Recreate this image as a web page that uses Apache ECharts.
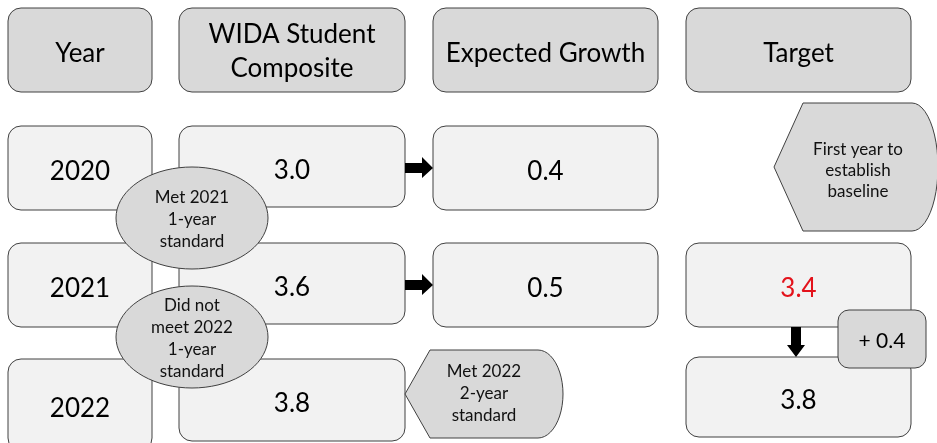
<!DOCTYPE html>
<html>
<head>
<meta charset="utf-8">
<script src="https://cdn.jsdelivr.net/npm/echarts@6/dist/echarts.min.js"></script>
<style>
  html, body { margin: 0; padding: 0; background: #fff; }
  #myChart { width: 937px; height: 443px; }
</style>
</head>
<body>
<div id="myChart"></div>
<script>
// data
const headers = ['Year', 'WIDA Student\nComposite', 'Expected Growth', 'Target']
const years = ['2020', '2021', '2022']
const composite = ['3.0', '3.6', '3.8']
const expectedGrowth = ['0.4', '0.5']
const targets = [null, '3.4', '3.8']
const targetStep = '+ 0.4'
const baselineNote = 'First year to\nestablish\nbaseline'
const oneYearNotes = ['Met 2021\n1-year\nstandard', 'Did not\nmeet 2022\n1-year\nstandard']
const twoYearNote = 'Met 2022\n2-year\nstandard'

// layout
const colLeft = [8, 179, 433, 686]
const colWidth = [144, 226, 225, 225]
const rowTop = [8, 126, 243, 359]
const FONT = 'Lato'
const STROKE = '#404040'
const HEAD_FILL = '#d9d9d9'
const BOX_FILL = '#f2f2f2'

function box(x, y, w, h, fill, text, color, size, lh, r) {
  const multi = text.indexOf('\n') >= 0
  return {
    type: 'rect',
    shape: { x: x, y: y, width: w, height: h, r: r || 13 },
    style: { fill: fill, stroke: STROKE, lineWidth: 1 },
    textContent: {
      style: {
        text: text,
        fill: color || '#000',
        fontFamily: FONT,
        fontSize: size || 26,
        lineHeight: lh || 34,
        align: 'center'
      }
    },
    textConfig: { position: 'inside', offset: [0, multi ? 2 : (size ? 2 : 4)] }
  }
}

function label(x, y, text, size, lh) {
  return {
    type: 'text',
    x: x,
    y: y,
    style: {
      text: text,
      fill: '#111',
      fontFamily: FONT,
      fontSize: size,
      lineHeight: lh,
      align: 'center',
      verticalAlign: 'middle'
    }
  }
}

function shape(points) {
  return {
    type: 'polygon',
    shape: { points: points },
    style: { fill: HEAD_FILL, stroke: STROKE, lineWidth: 1 }
  }
}

// pointed-left callout with a rounded right side
function displayShape(xPoint, xCorner, xArc, rx, top, bottom) {
  const cy = (top + bottom) / 2
  const ry = (bottom - top) / 2
  const pts = [[xPoint, cy], [xCorner, top]]
  for (let k = 0; k <= 24; k++) {
    const a = -Math.PI / 2 + Math.PI * k / 24
    pts.push([xArc + rx * Math.cos(a), cy + ry * Math.sin(a)])
  }
  pts.push([xCorner, bottom])
  return shape(pts)
}

function ellipse(cx, cy, rx, ry) {
  const pts = []
  for (let k = 0; k < 72; k++) {
    const a = Math.PI * 2 * k / 72
    pts.push([cx + rx * Math.cos(a), cy + ry * Math.sin(a)])
  }
  return shape(pts)
}

function rightArrow(x, cy) {
  return {
    type: 'polygon',
    shape: {
      points: [[x, cy - 5], [x + 17, cy - 5], [x + 17, cy - 11], [x + 28, cy],
        [x + 17, cy + 10], [x + 17, cy + 5], [x, cy + 5]]
    },
    style: { fill: '#000' }
  }
}

const els = []

// header row
headers.forEach((h, i) => {
  els.push(box(colLeft[i], rowTop[0], colWidth[i], 84, HEAD_FILL, h))
})

// year + composite columns
years.forEach((y, i) => {
  const top = rowTop[i + 1]
  els.push(box(colLeft[0], top, colWidth[0], i === 2 ? 92 : 84, BOX_FILL, y))
  els.push(box(colLeft[1], top, colWidth[1], i === 2 ? 82 : 81, BOX_FILL, composite[i]))
})

// expected growth + arrows
expectedGrowth.forEach((g, i) => {
  const top = rowTop[i + 1]
  els.push(box(colLeft[2], top, colWidth[2], 84, BOX_FILL, g))
  els.push(rightArrow(405, top + 42))
})

// target column
targets.forEach((t, i) => {
  if (t === null) return
  const top = i === 2 ? 357 : rowTop[i + 1]
  els.push(box(colLeft[3], top, colWidth[3], i === 2 ? 80 : 84, BOX_FILL, t, i === 1 ? '#e3121b' : '#000'))
})

// down arrow between targets
els.push({
  type: 'polygon',
  shape: {
    points: [[791, 327], [801, 327], [801, 345], [805, 345], [796, 357], [787, 345], [791, 345]]
  },
  style: { fill: '#000' }
})

els.push(box(838, 310, 88, 58, HEAD_FILL, targetStep, '#000', 21, 24, 11))

// baseline callout
els.push(displayShape(774, 803, 912, 26, 103, 231))
els.push(label(858, 171, baselineNote, 17, 21))

// two-year callout
els.push(displayShape(405, 430, 538, 25, 350, 438))
els.push(label(484, 394, twoYearNote, 17, 22))

// one-year ellipses
const ellipseCy = [218, 337]
oneYearNotes.forEach((n, i) => {
  els.push(ellipse(192, ellipseCy[i], 76, 51))
  els.push(label(192, ellipseCy[i] + 2, n, 17, 22))
})

const myChart = echarts.init(document.getElementById('myChart'))
myChart.setOption({
  animation: false,
  graphic: els
})
</script>
</body>
</html>
